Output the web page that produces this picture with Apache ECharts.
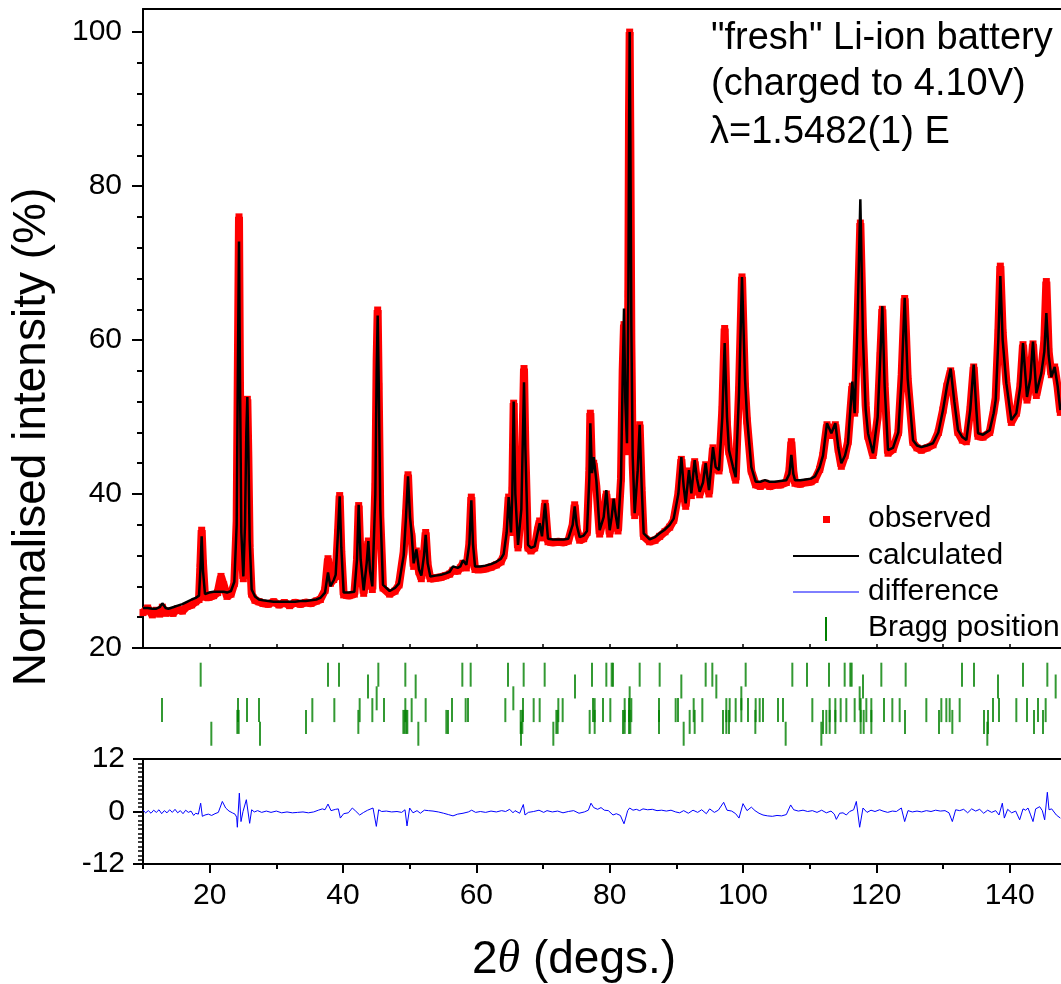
<!DOCTYPE html>
<html>
<head>
<meta charset="utf-8">
<script src="https://cdn.jsdelivr.net/npm/echarts@6/dist/echarts.min.js"></script>
<style>
html, body { margin: 0; padding: 0; background: #fff; }
#chart { width: 1061px; height: 984px; }
</style>
</head>
<body>
<div id="chart"></div>
<script>
// 2theta grid shared by observed and calculated profiles
var twoTheta = [
	10.0, 10.7, 11.4, 12.0, 12.5, 12.9, 13.4, 13.8, 14.5, 15.2, 15.9, 16.6, 17.3, 17.9, 18.4,
	18.6, 18.8, 19.0, 19.3, 19.9, 20.6, 21.2, 21.7, 22.1, 22.6, 23.2, 23.7,
	24.05, 24.25, 24.4, 24.55, 24.75, 25.05, 25.3, 25.5, 25.65, 25.8, 26.0, 26.3,
	26.8, 27.4, 28.0, 28.8, 29.6, 30.4, 31.2, 32.0, 32.8, 33.6, 34.4, 35.2, 36.0, 36.6,
	37.3, 37.75, 38.1, 38.6, 38.9, 39.25, 39.5, 39.75, 40.1, 40.9, 41.7, 42.1, 42.35, 42.65, 43.1, 43.55, 43.8, 44.05, 44.4,
	44.85, 45.05, 45.2, 45.35, 45.6, 46.0, 47.0, 47.8, 48.4, 49.1, 49.45, 49.75, 50.05, 50.3, 50.6, 51.0, 51.4, 51.75, 52.15, 52.4, 52.7, 53.1,
	53.9, 54.7, 55.4, 56.0, 56.5, 57.2, 57.6, 58.0, 58.5, 58.95, 59.25, 59.5, 59.8, 60.6, 61.4, 62.2, 63.0, 63.7,
	64.1, 64.55, 64.85, 65.2, 65.4, 65.6, 65.85, 66.25, 66.75, 67.0, 67.15, 67.35, 67.75, 68.2, 68.75, 69.2, 69.5, 69.85, 70.3, 70.75,
	71.5, 72.3, 73.1, 73.8, 74.45, 74.75, 75.05, 75.5, 76.1, 76.6, 76.95, 77.1, 77.35, 77.6, 78.0, 78.5, 79.1, 79.5, 80.0, 80.3, 80.6, 80.95, 81.25,
	81.7, 81.95, 82.15, 82.35, 82.6, 82.8, 82.9, 83.0, 83.1, 83.25, 83.45, 83.75, 84.2, 84.5, 84.8, 85.1, 86.0, 86.8, 87.5, 88.3, 89.0, 89.6,
	90.3, 90.75, 91.1, 91.4, 91.9, 92.25, 92.75, 93.1, 93.5, 94.0, 94.4, 94.9, 95.5, 95.9, 96.4, 96.9, 97.25, 97.6, 97.9, 98.5, 98.9, 99.4, 99.85, 100.3, 100.6, 101.25, 101.9,
	102.6, 103.3, 104.0, 104.8, 105.6, 106.5, 106.95, 107.25, 107.55, 107.8, 108.6, 109.4, 110.2, 110.8, 111.5,
	112.0, 112.6, 113.25, 113.85, 114.3, 114.75, 115.3, 115.75, 116.4, 116.75, 117.2, 117.6, 118.0, 118.4, 118.75, 119.5,
	120.2, 120.6, 120.9, 121.25, 121.75, 122.5, 123.3, 123.8, 124.25, 124.7, 125.5, 126.1, 126.75, 127.6, 128.5, 129.3, 130.0,
	130.6, 131.15, 131.7, 132.25, 132.9, 133.5, 134.1, 134.6, 135.0, 135.25, 136.0, 137.0, 137.6, 137.9, 138.3, 138.6, 138.95, 139.5, 140.25,
	141.0, 141.6, 142.0, 142.6, 143.1, 143.5, 144.0, 144.75, 145.2, 145.5, 145.85, 146.25, 146.75, 147.2, 147.6
];
var calcInt = [
	25.2, 25.2, 25.1, 25.1, 25.3, 25.8, 25.2, 25.1, 25.3, 25.5, 25.7, 26.0, 26.3, 26.5, 26.8,
	30.0, 34.5, 30.0, 27.0, 27.2, 27.3, 27.3, 27.3, 27.3, 27.2, 27.4, 28.6,
	36.0, 58.0, 72.8, 55.0, 35.0, 29.3, 36.0, 48.0, 52.6, 46.0, 34.0, 27.6,
	26.7, 26.3, 26.2, 26.1, 26.0, 26.0, 26.0, 26.0, 26.0, 26.1, 26.1, 26.2, 26.3, 26.5,
	27.2, 29.8, 28.0, 28.8, 29.5, 35.0, 39.7, 33.0, 27.2, 27.2, 27.3, 31.5, 38.6, 31.5, 27.5, 31.0, 33.9, 30.0, 28.0,
	40.0, 56.0, 63.2, 55.0, 38.0, 28.2, 27.4, 27.8, 28.4, 32.0, 37.0, 42.3, 37.0, 34.8, 31.0, 32.8, 30.2, 29.4, 32.0, 34.7, 31.0, 29.3,
	29.4, 29.5, 29.7, 29.9, 30.6, 30.4, 30.6, 31.4, 30.8, 33.5, 39.2, 33.5, 30.6, 30.6, 30.7, 30.9, 31.2, 31.6,
	32.2, 35.0, 39.6, 35.0, 40.0, 52.0, 40.0, 33.4, 38.0, 48.0, 54.5, 46.0, 33.4, 33.0, 33.2, 35.0, 36.2, 34.5, 38.8, 34.2,
	34.1, 34.1, 34.1, 34.2, 36.0, 38.4, 36.0, 34.4, 34.6, 35.2, 42.0, 49.2, 42.7, 44.8, 41.8, 35.3, 37.0, 40.5, 35.3, 37.0, 39.4, 37.0, 35.5,
	42.0, 55.0, 64.1, 52.0, 46.6, 65.0, 85.0, 100.0, 87.0, 62.0, 45.0, 37.5, 43.0, 49.0, 41.0, 34.9, 34.1, 34.4, 34.9, 35.4, 36.0, 36.8,
	40.0, 44.8, 41.0, 38.8, 43.1, 40.1, 44.4, 42.0, 40.3, 41.5, 44.0, 40.5, 46.1, 43.5, 43.1, 50.0, 59.6, 50.0, 45.7, 43.5, 42.2, 53.0, 68.2, 55.0, 50.0, 43.5, 41.6,
	41.6, 41.8, 41.6, 41.6, 41.7, 41.8, 42.6, 45.1, 42.6, 41.8, 41.8, 41.9, 42.0, 42.3, 43.5,
	45.0, 49.2, 47.9, 49.2, 46.0, 44.0, 45.0, 46.6, 54.6, 50.5, 63.0, 78.3, 60.0, 51.0, 47.9, 45.3,
	50.0, 58.0, 64.4, 54.0, 45.7, 46.0, 48.0, 55.0, 65.5, 55.0, 47.0, 46.3, 46.1, 46.3, 46.6, 48.0, 50.9,
	54.0, 56.3, 52.0, 48.3, 47.4, 47.0, 51.0, 56.8, 51.0, 47.9, 47.7, 48.3, 50.5, 52.2, 60.0, 68.3, 60.0, 54.4, 49.6,
	50.5, 54.0, 59.6, 52.6, 55.0, 59.8, 53.1, 55.7, 58.5, 63.5, 58.0, 55.2, 56.5, 54.0, 50.9
];
var obsInt = [
	24.6, 25.2, 24.3, 24.9, 24.4, 25.3, 24.5, 24.8, 24.5, 25.1, 24.8, 25.4, 25.6, 26.0, 26.3,
	30.5, 35.3, 31.0, 26.6, 26.6, 26.8, 27.2, 29.3, 28.2, 26.7, 27.0, 28.4,
	36.5, 59.0, 76.0, 54.0, 34.0, 29.0, 37.5, 49.0, 52.3, 45.0, 33.0, 27.0,
	26.2, 26.0, 25.8, 25.7, 26.0, 25.6, 25.9, 25.5, 25.9, 25.7, 25.9, 25.8, 26.1, 26.3,
	27.5, 31.6, 28.4, 28.9, 29.3, 35.0, 39.8, 32.5, 26.9, 26.8, 27.0, 31.5, 38.5, 31.0, 27.1, 31.5, 33.9, 30.0, 27.6,
	41.0, 57.5, 63.9, 54.0, 37.0, 27.8, 27.0, 27.4, 28.2, 32.5, 37.5, 42.5, 36.0, 34.5, 30.6, 32.6, 29.9, 29.0, 32.3, 35.0, 30.8, 29.0,
	29.1, 29.2, 29.4, 29.6, 30.1, 30.0, 30.4, 31.0, 30.4, 33.5, 39.6, 33.0, 30.2, 30.2, 30.3, 30.5, 30.8, 31.2,
	32.0, 35.5, 39.6, 35.0, 40.5, 51.8, 39.5, 33.0, 38.5, 50.0, 56.3, 46.0, 33.0, 32.6, 33.0, 35.3, 36.5, 34.3, 38.8, 33.8,
	33.7, 33.8, 33.7, 33.9, 36.0, 38.6, 35.5, 34.0, 34.2, 35.0, 43.0, 50.5, 43.0, 44.0, 41.0, 34.8, 37.0, 40.0, 34.8, 37.0, 39.0, 36.5, 35.2,
	42.0, 56.0, 62.0, 50.0, 45.5, 66.0, 89.0, 100.0, 86.0, 60.0, 44.0, 37.2, 43.5, 49.0, 40.5, 34.5, 33.8, 34.0, 34.5, 35.1, 35.7, 36.6,
	40.0, 44.5, 40.5, 38.4, 43.0, 39.8, 44.2, 41.5, 39.9, 41.5, 43.8, 40.0, 46.0, 43.3, 43.0, 51.0, 61.5, 49.0, 45.5, 43.2, 41.8, 53.5, 68.2, 54.0, 49.5, 43.0, 41.2,
	41.0, 41.4, 41.0, 41.2, 41.2, 41.5, 43.0, 46.8, 43.0, 41.4, 41.3, 41.5, 41.6, 41.9, 43.2,
	45.0, 49.0, 47.6, 49.0, 45.8, 43.6, 45.0, 46.8, 54.0, 50.5, 63.0, 75.2, 61.0, 51.5, 47.5, 45.0,
	50.0, 58.0, 64.0, 54.0, 45.3, 45.8, 48.0, 55.5, 65.4, 55.0, 46.7, 46.0, 45.7, 46.0, 46.4, 48.0, 50.9,
	54.0, 56.0, 52.0, 48.0, 47.0, 46.8, 51.0, 56.5, 51.0, 47.5, 47.4, 48.0, 50.8, 52.5, 61.0, 69.6, 61.0, 54.6, 49.3,
	50.5, 54.0, 59.4, 52.2, 55.0, 59.5, 52.8, 56.0, 60.0, 67.6, 58.5, 55.5, 56.5, 53.8, 50.6
];

// difference curve (obs - calc)
var diffTheta = [
	10.0, 10.4, 10.8, 11.2, 11.6, 12.0, 12.4, 12.8, 13.2, 13.6, 14.0, 14.4, 14.8, 15.2, 15.6, 16.0, 16.4, 16.8, 17.2, 17.6, 17.9, 18.3,
	18.65, 18.9, 19.3, 19.8, 20.3, 20.8, 21.3, 21.9, 22.4, 22.9, 23.4, 23.8, 24.05, 24.15, 24.45, 24.7, 25.0, 25.15, 25.5, 26.0, 26.3,
	26.7, 27.2, 27.8, 28.5, 29.2, 30.0, 30.8, 31.6, 32.4, 33.2, 34.0, 34.8, 35.6, 36.3, 36.9, 37.3, 37.75, 38.2, 38.9, 39.3, 39.6,
	40.1, 40.8, 41.4, 41.9, 42.5, 43.1, 43.7, 44.5, 44.8, 45.0, 45.35, 45.8, 46.5, 47.3, 48.1, 48.8, 49.3, 49.6, 50.0, 50.5,
	51.1, 51.6, 52.2, 52.8, 53.5, 54.3, 55.1, 55.8, 56.5, 57.2, 58.0, 58.8, 59.3, 59.9, 60.6, 61.4, 62.2, 63.0, 63.8, 64.4,
	65.0, 65.5, 65.8, 66.5, 67.05, 67.3, 67.8, 68.6, 69.4, 70.1, 70.6, 71.4, 72.2, 73.0, 73.8, 74.6, 75.4, 76.2, 76.8, 77.2,
	77.6, 78.2, 78.7, 79.2, 79.8, 80.5, 81.0, 81.6, 82.15, 82.4, 82.7, 83.0, 83.5, 84.0, 84.5, 85.0, 85.7, 86.4, 87.1, 87.8,
	88.5, 89.2, 89.9, 90.5, 91.1, 91.8, 92.5, 93.2, 93.8, 94.5, 95.0, 95.7, 96.3, 97.1, 97.6, 98.3, 98.9, 99.4, 100.0, 100.6,
	101.25, 101.8, 102.4, 103.0, 103.7, 104.4, 105.1, 105.8, 106.5, 107.15, 107.6, 108.3, 109.0, 109.7, 110.4, 111.1, 111.8, 112.5, 113.2, 113.7,
	114.0, 114.5, 115.0, 115.5, 116.0, 116.6, 117.0, 117.5, 118.0, 118.6, 119.2, 119.8, 120.5, 121.0, 121.7, 122.4, 123.0, 123.75, 124.25, 124.75,
	125.4, 126.1, 126.8, 127.5, 128.2, 128.9, 129.6, 130.3, 130.9, 131.4, 131.9, 132.5, 133.1, 133.7, 134.3, 134.9, 135.5, 136.1, 136.7, 137.3,
	137.9, 138.4, 138.9, 139.2, 139.7, 140.3, 140.9, 141.5, 142.0, 142.4, 142.75, 143.1, 143.5, 143.9, 144.5, 144.9, 145.25, 145.65, 145.9, 146.3,
	147.0, 147.6
];
var diffInt = [
	0.3, -0.3, 0.2, -0.4, 0.3, -0.2, 0.4, -0.5, 0.2, -0.3, 0.4, -0.2, 0.5, -0.3, 0.2, -0.5, 0.3, -0.2, 0.1, -0.9, -0.4, -0.6,
	1.9, -1.1, -0.8, -0.6, -0.9, -0.5, -0.2, 2.3, 0.8, 0.1, -0.3, -0.6, -1.3, -3.6, 4.2, -2.3, 0.0, 0.8, 2.7, -2.7, 0.4,
	-0.1, 0.2, -0.2, 0.1, -0.2, 0.1, -0.3, -0.1, -0.3, -0.2, -0.1, -0.3, -0.1, 0.3, 0.6, 0.4, 1.7, 0.2, 0.5, 0.6, -1.5,
	-0.5, -0.3, 0.8, 0.1, -0.8, -0.2, 0.3, 0.8, 0.5, -3.4, 0.4, 0.0, 0.1, -0.1, 0.0, -0.2, 0.4, -3.3, 0.8, -0.3,
	0.2, -0.4, 0.3, 0.2, 0.1, -0.1, -0.4, -0.7, -1.0, -0.6, -0.4, -0.1, 0.3, -0.2, 0.0, -0.2, 0.1, -0.1, 0.2, 0.0,
	0.5, -0.3, 0.2, -0.4, 1.6, -0.8, -0.2, 0.0, 0.3, -0.2, 0.2, -0.1, 0.1, -0.3, 0.0, 0.2, -0.4, -0.1, 0.3, 1.9,
	0.9, 0.5, 0.9, 0.3, 0.2, -0.8, -0.5, -0.9, -2.8, -1.5, 0.2, 0.8, 0.3, 0.5, 0.2, 0.6, 0.4, 0.5, 0.2, 0.3,
	0.1, 0.3, -0.1, -0.3, 0.2, -0.4, 0.3, -0.2, 0.4, -0.5, 0.6, -0.2, 0.3, 2.1, 0.3, 0.1, -0.5, -1.5, 1.8, 0.2,
	1.0, 0.2, -0.4, -0.8, -1.0, -1.1, -0.9, -1.0, -0.7, 1.5, 0.4, 0.1, 0.3, 0.0, 0.2, -0.2, 0.3, -0.3, 0.1, -0.6,
	-1.8, -0.4, -0.3, -0.8, 0.0, 0.4, 2.3, -3.6, 0.8, -0.2, 0.3, 0.0, 0.4, 0.1, -0.2, 0.1, 0.0, 0.8, -2.3, 0.2,
	-0.1, 0.1, -0.1, 0.2, 0.0, 0.3, 0.1, 0.2, -0.3, -2.3, 0.4, 0.2, 0.5, -0.3, 0.6, 0.1, 0.5, -0.4, 0.3, -0.2,
	0.2, -0.8, 1.9, -1.5, 0.5, -0.3, 0.1, -1.9, 0.6, 0.3, 0.8, -0.6, -2.3, 0.6, 1.1, 0.2, -1.9, 4.4, 0.4, 0.6,
	-0.8, -1.5
];

// Bragg reflection positions, one row per phase
var braggA = [18.65, 37.75, 39.4, 45.3, 49.35, 57.9, 59.15, 64.75, 67.1, 70.25, 77.35, 79.5, 80.3, 80.5, 84.5, 87.5,
	94.4, 95.4, 100.4, 107.4, 109.6, 112.9, 115.25, 116.1, 116.3, 120.75, 124.4, 132.85, 134.65, 142.0, 145.65];
var braggB = [43.75, 50.9, 74.8, 90.75, 96.0, 118.0, 138.25, 146.9];
var braggC = [45.05, 65.55, 83.0, 99.75, 117.5];
var braggD = [12.85, 24.25, 25.6, 27.4, 35.4, 38.7, 42.5, 44.4, 46.15, 49.35, 50.3, 52.4, 56.35, 58.4, 58.75, 64.35,
	67.0, 68.6, 69.5, 72.3, 72.95, 77.5, 77.75, 79.0, 80.1, 82.25, 82.9, 83.25, 87.4, 89.9, 90.25, 92.6, 93.9, 97.5,
	98.0, 98.9, 99.75, 100.75, 101.9, 102.5, 103.0, 105.25, 106.0, 110.4, 113.0, 113.85, 114.65, 115.5, 116.75,
	117.65, 118.5, 119.25, 121.15, 122.4, 123.5, 127.5, 129.75, 130.5, 131.0, 132.5, 137.5, 138.4, 141.0, 142.6,
	144.25, 145.4];
var braggE = [24.15, 24.35, 34.45, 42.3, 49.05, 49.25, 49.5, 49.65, 55.5, 55.75, 66.65, 66.9, 72.0, 72.2, 77.0, 77.75,
	82.0, 82.25, 82.9, 83.1, 87.4, 92.0, 92.75, 97.0, 97.5, 97.9, 101.85, 112.0, 112.5, 113.0, 113.85, 117.65, 118.1,
	119.25, 124.3, 129.4, 131.4, 136.15, 136.75, 143.65, 145.0];
var braggF = [20.25, 27.55, 51.3, 66.7, 71.55, 91.1, 106.4, 111.75, 136.65];

var majorX = [20, 40, 60, 80, 100, 120, 140];
var minorX = [10, 30, 50, 70, 90, 110, 130];
var majorY = [20, 40, 60, 80, 100];
var minorY = [24, 28, 32, 36, 44, 48, 52, 56, 64, 68, 72, 76, 84, 88, 92, 96];

var FONT = 'Liberation Sans, Arial, sans-serif';
var xMin = 10, xMax = 147.7;

var calcData = twoTheta.map(function(t, i) { return [t, calcInt[i]]; });
var obsData = twoTheta.map(function(t, i) { return [t, obsInt[i]]; });
var diffData = diffTheta.map(function(t, i) { return [t, diffInt[i]]; });
var braggData = [];
[braggA, braggB, braggC, braggD, braggE, braggF].forEach(function(row, r) {
	row.forEach(function(t) { braggData.push([t, r]); });
});

function plainX(grid, pos) {
	return {
		type: 'value', gridIndex: grid, position: pos, min: xMin, max: xMax,
		axisLine: { show: true, onZero: false, lineStyle: { color: '#000', width: 2 } },
		axisTick: { show: false }, axisLabel: { show: false }, splitLine: { show: false }
	};
}

var chart = echarts.init(document.getElementById('chart'));
var option = {
	animation: false,
	backgroundColor: '#fff',
	grid: [
		{ left: 143, right: 0, top: 9, height: 639 },
		{ left: 143, right: 0, top: 648, height: 111 },
		{ left: 143, right: 0, top: 759, height: 105 }
	],
	xAxis: [
		{
			type: 'value', gridIndex: 0, position: 'bottom', min: xMin, max: xMax,
			axisLine: { show: true, onZero: false, lineStyle: { color: '#000', width: 2 } },
			axisTick: { show: true, inside: true, length: 4, customValues: majorX.concat(minorX), lineStyle: { color: '#000', width: 1.5 } },
			axisLabel: { show: false }, splitLine: { show: false }
		},
		plainX(0, 'top'),
		{ type: 'value', gridIndex: 1, min: xMin, max: xMax, show: false },
		{
			type: 'value', gridIndex: 2, position: 'bottom', min: xMin, max: xMax,
			axisLine: { show: true, onZero: false, lineStyle: { color: '#000', width: 2 } },
			axisTick: { show: true, length: 9, customValues: majorX, lineStyle: { color: '#000', width: 2 } },
			axisLabel: { customValues: majorX, color: '#000', fontSize: 30, fontFamily: FONT, margin: 17 },
			splitLine: { show: false }
		},
		{
			type: 'value', gridIndex: 2, position: 'bottom', min: xMin, max: xMax,
			axisLine: { show: false, onZero: false },
			axisTick: { show: true, length: 5, customValues: minorX, lineStyle: { color: '#000', width: 2 } },
			axisLabel: { show: false }, splitLine: { show: false }
		},
		plainX(2, 'top')
	],
	yAxis: [
		{
			type: 'value', gridIndex: 0, position: 'left', min: 20, max: 103,
			axisLine: { show: true, onZero: false, lineStyle: { color: '#000', width: 2 } },
			axisTick: { show: true, length: 11, customValues: majorY, lineStyle: { color: '#000', width: 2 } },
			axisLabel: { customValues: majorY, color: '#000', fontSize: 30, fontFamily: FONT, margin: 21 },
			splitLine: { show: false }
		},
		{
			type: 'value', gridIndex: 0, position: 'left', min: 20, max: 103,
			axisLine: { show: false, onZero: false },
			axisTick: { show: true, length: 6, customValues: minorY, lineStyle: { color: '#000', width: 2 } },
			axisLabel: { show: false }, splitLine: { show: false }
		},
		{ type: 'value', gridIndex: 1, min: -2.26, max: 7.14, inverse: true, show: false },
		{
			type: 'value', gridIndex: 2, position: 'left', min: -12, max: 12, interval: 12,
			axisLine: { show: true, onZero: false, lineStyle: { color: '#000', width: 2 } },
			axisTick: { show: true, length: 10, lineStyle: { color: '#000', width: 2 } },
			minorTick: { show: true, splitNumber: 12, length: 5, lineStyle: { color: '#000', width: 1.5 } },
			axisLabel: { color: '#000', fontSize: 30, fontFamily: FONT, margin: 18 },
			splitLine: { show: false }
		}
	],
	series: [
		{
			name: 'observed', type: 'line', xAxisIndex: 0, yAxisIndex: 0, data: obsData,
			symbol: 'rect', symbolSize: 7, showSymbol: true,
			itemStyle: { color: '#ff0000' },
			lineStyle: { color: '#ff0000', width: 8 },
			z: 2, silent: true
		},
		{
			name: 'calculated', type: 'line', xAxisIndex: 0, yAxisIndex: 0, data: calcData,
			symbol: 'none', lineStyle: { color: '#000', width: 2.5 }, z: 3, silent: true
		},
		{
			name: 'Bragg position', type: 'scatter', xAxisIndex: 2, yAxisIndex: 2, data: braggData,
			symbol: 'rect', symbolSize: [2, 24], itemStyle: { color: '#008000' }, silent: true
		},
		{
			name: 'difference', type: 'line', xAxisIndex: 3, yAxisIndex: 3, data: diffData,
			symbol: 'none', lineStyle: { color: '#0000ff', width: 1 }, silent: true
		}
	],
	graphic: [
		// annotation
		{ type: 'text', x: 711, y: 39, style: { text: '"fresh" Li-ion battery', fill: '#000', font: '38px ' + FONT, verticalAlign: 'middle' } },
		{ type: 'text', x: 711, y: 85, style: { text: '(charged to 4.10V)', fill: '#000', font: '38px ' + FONT, verticalAlign: 'middle' } },
		{ type: 'text', x: 710, y: 133, style: { text: 'λ=1.5482(1) E', fill: '#000', font: '38px ' + FONT, verticalAlign: 'middle' } },
		// legend
		{ type: 'rect', shape: { x: 823, y: 516, width: 7, height: 7 }, style: { fill: '#ff0000' } },
		{ type: 'line', shape: { x1: 793, y1: 556, x2: 859, y2: 556 }, style: { stroke: '#000', lineWidth: 2 } },
		{ type: 'line', shape: { x1: 793, y1: 592, x2: 859, y2: 592 }, style: { stroke: '#0000ff', lineWidth: 1 } },
		{ type: 'line', shape: { x1: 826, y1: 617, x2: 826, y2: 641 }, style: { stroke: '#008000', lineWidth: 2 } },
		{ type: 'text', x: 868, y: 519, style: { text: 'observed', fill: '#000', font: '30px ' + FONT, verticalAlign: 'middle' } },
		{ type: 'text', x: 868, y: 556, style: { text: 'calculated', fill: '#000', font: '30px ' + FONT, verticalAlign: 'middle' } },
		{ type: 'text', x: 868, y: 592, style: { text: 'difference', fill: '#000', font: '30px ' + FONT, verticalAlign: 'middle' } },
		{ type: 'text', x: 868, y: 628, style: { text: 'Bragg position', fill: '#000', font: '30px ' + FONT, verticalAlign: 'middle' } },
		// axis titles
		{
			type: 'text', x: 472, y: 960,
			style: {
				text: '{n|2}{t|θ}{n| (degs.)}', verticalAlign: 'middle',
				rich: {
					n: { fontSize: 46, fontFamily: FONT, fill: '#000' },
					t: { fontSize: 46, fontFamily: 'Liberation Serif, serif', fontStyle: 'italic', fill: '#000' }
				}
			}
		},
		{
			type: 'text', x: 32, y: 437, rotation: Math.PI / 2,
			style: { text: 'Normalised intensity (%)', fill: '#000', font: '46px ' + FONT, align: 'center', verticalAlign: 'middle' }
		}
	]
};
chart.setOption(option);
</script>
</body>
</html>
